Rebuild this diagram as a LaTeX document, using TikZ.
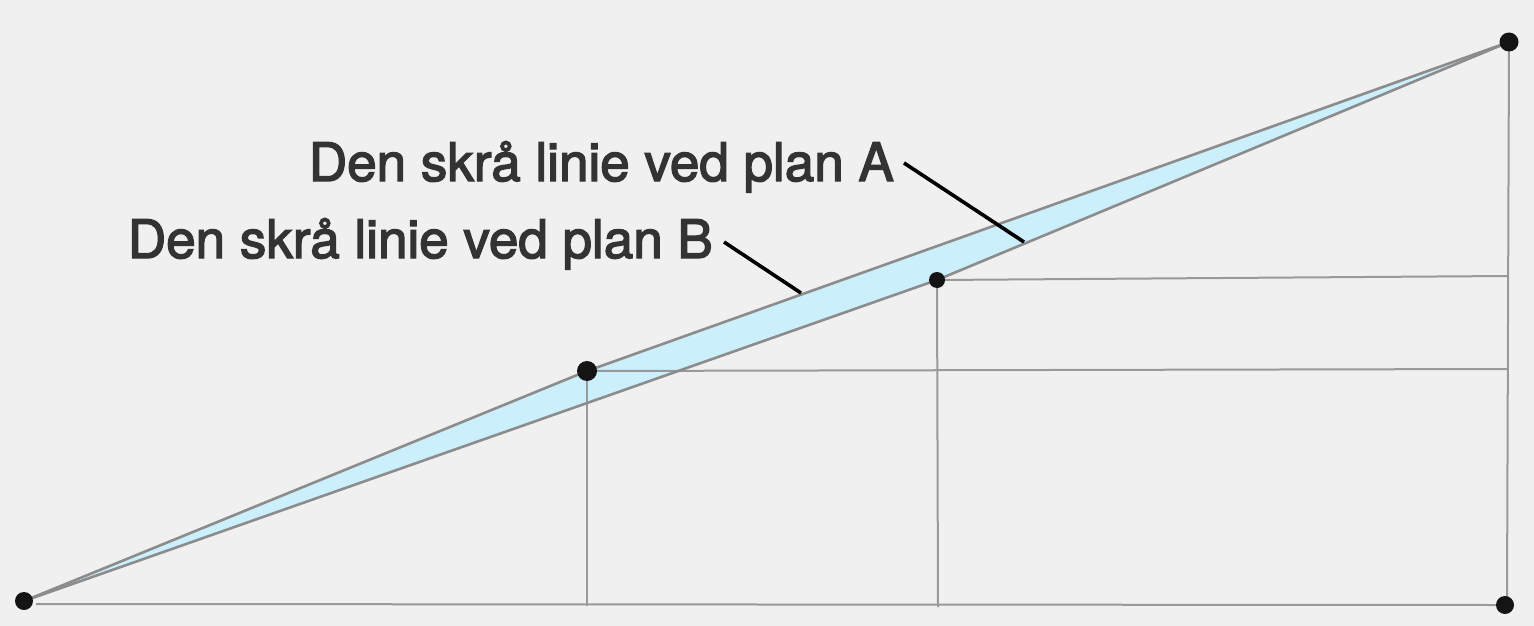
\documentclass[tikz,border=0pt]{standalone}
\usepackage{fontspec}
\setmainfont{TeX Gyre Heros}[FakeBold=2.6]
\begin{document}
\begin{tikzpicture}[x=1pt,y=-1pt,
  guide/.style={draw=black!40,line width=2pt},
  slant/.style={draw=black!45,line width=2.6pt},
  dot/.style={circle,fill=black!92,inner sep=0pt,minimum size=#1},
  lab/.style={text=black!80,font=\fontsize{53}{63}\selectfont,inner sep=0pt,anchor=base east},
  leader/.style={draw=black,line width=3.6pt}]
\fill[black!6] (0,0) rectangle (1534,626);
\useasboundingbox (0,0) rectangle (1534,626);
% points
\coordinate (O) at (24,601);
\coordinate (T) at (1509,42);
\coordinate (R) at (1505,605);
\coordinate (M) at (587,371);
\coordinate (N) at (937,280);
% blue wedge
\fill[cyan!20!white] (O) -- (M) -- (T) -- (N) -- cycle;
% guide lines
\draw[guide] (36,604) -- (1497,605);
\draw[guide] (M) -- (1508,369);
\draw[guide] (N) -- (1508,276);
\draw[guide] (M) -- (587,606);
\draw[guide] (N) -- (938,607);
\draw[guide] (T) -- (1507,598);
% slanted lines
\draw[slant] (O) -- (M) -- (T);
\draw[slant] (O) -- (N) -- (T);
% dots
\node[dot=18pt] (dO) at (O) {};
\node[dot=19pt] (dT) at (T) {};
\node[dot=18pt] (dR) at (R) {};
\node[dot=20pt] (dM) at (M) {};
\node[dot=16pt] (dN) at (N) {};
% labels
\node[lab] (A) at (894,181) {Den skrå linie ved plan A};
\node[lab] (B) at (713,258) {Den skrå linie ved plan B};
\coordinate (Aend) at (1024,242);
\coordinate (Bend) at (801,293);
\draw[leader] ([xshift=10pt,yshift=18pt]A.base east) -- (Aend);
\draw[leader] ([xshift=11pt,yshift=16pt]B.base east) -- (Bend);
\end{tikzpicture}
\end{document}
